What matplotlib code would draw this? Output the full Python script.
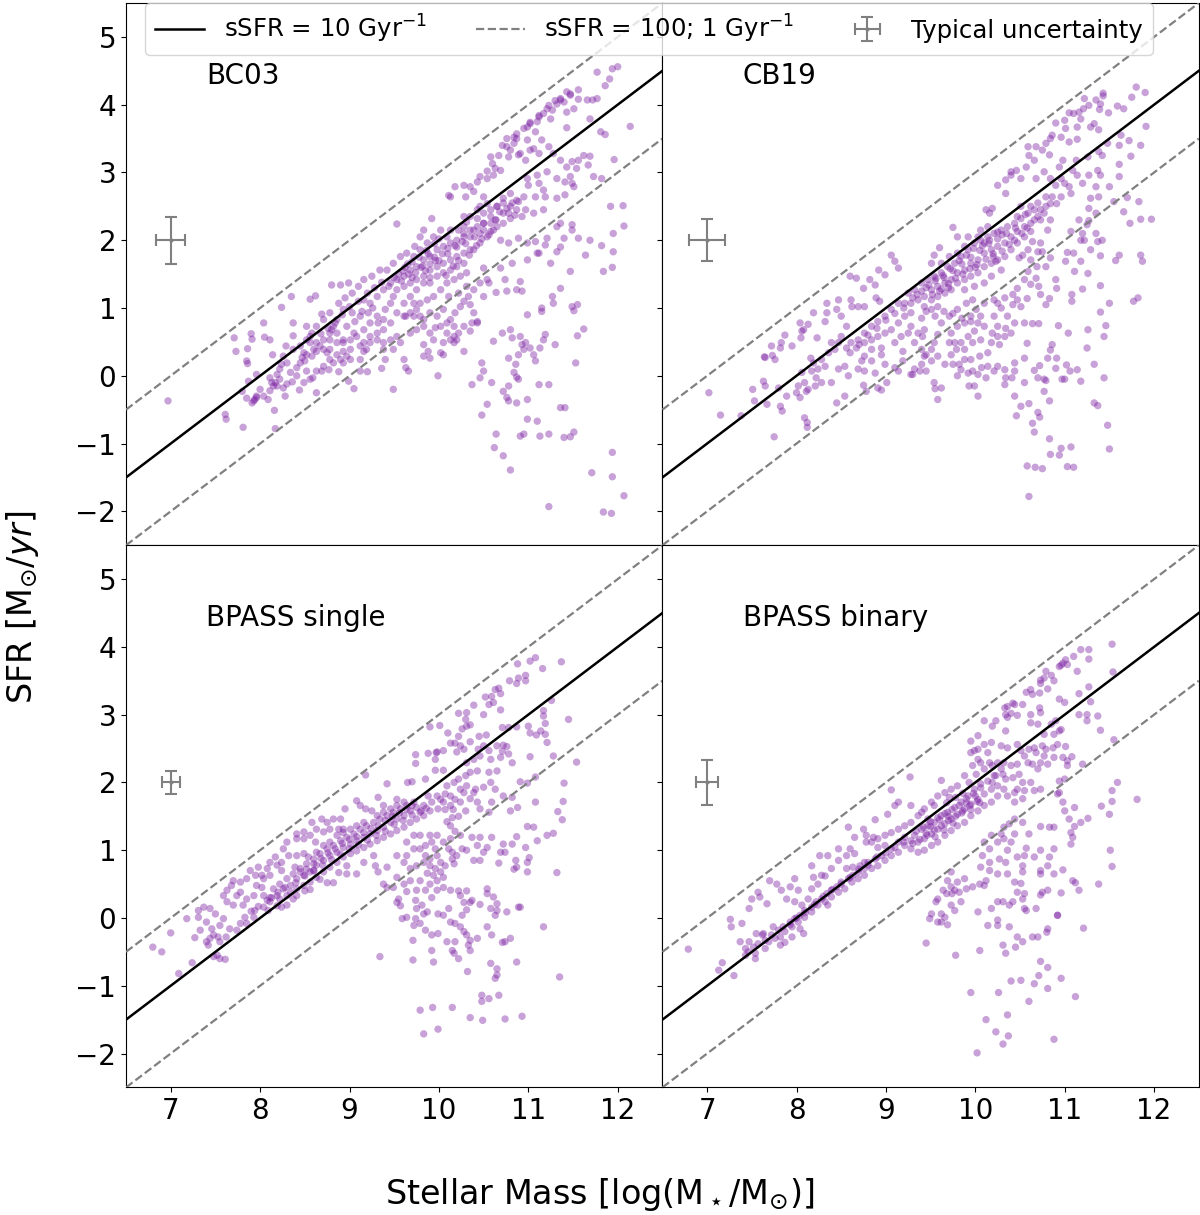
import numpy as np
import matplotlib
matplotlib.use('Agg')
import matplotlib.pyplot as plt

## (log stellar mass, log SFR)
bc03_pts = [
    (12.0,4.56),(11.94,4.53),(11.77,4.48),(11.91,4.38),(11.86,4.28),(11.56,4.22),(11.47,4.16),(11.36,4.07),(11.4,4.04),(11.32,4.01),
    (11.23,3.99),(11.56,4.08),(11.66,4.07),(11.77,4.09),(11.72,4.07),(11.51,3.94),(11.43,3.89),(11.27,3.92),(11.17,3.87),(11.12,3.82),
    (11.1,3.75),(11.02,3.72),(10.95,3.65),(11.25,3.79),(11.69,3.79),(12.14,3.68),(11.43,3.66),(11.08,3.6),(10.99,3.48),(10.87,3.5),
    (10.84,3.43),(10.76,3.38),(10.71,3.4),(10.8,3.33),(11.15,3.48),(11.23,3.38),(11.81,3.6),(11.86,3.56),(11.02,3.33),(10.91,3.28),
    (11.06,3.35),(11.12,3.28),(10.97,3.18),(10.89,3.26),(10.78,3.23),(10.67,3.25),(10.58,3.23),(10.6,3.13),(10.69,3.03),(10.63,3.06),
    (10.54,3.02),(10.61,2.96),(10.54,2.91),(10.46,2.94),(10.43,2.86),(10.35,2.79),(11.28,3.28),(11.36,3.18),(11.43,3.08),(11.49,3.16),
    (11.56,3.18),(11.62,3.25),(11.69,3.24),(11.67,3.11),(11.96,3.19),(11.54,3.06),(11.47,2.94),(11.32,2.91),(11.41,2.86),(11.51,2.79),
    (11.49,2.84),(11.21,3.01),(11.1,2.96),(10.99,2.91),(11.0,2.81),(11.12,2.84),(11.17,2.74),(11.08,2.64),(10.95,2.64),(10.89,2.57),
    (10.8,2.69),(10.72,2.62),(10.82,2.55),(10.87,2.45),(10.76,2.47),(10.65,2.5),(10.97,2.45),(11.19,2.64),(11.32,2.62),(11.41,2.67),
    (11.73,2.94),(11.82,2.91),(10.28,2.81),(10.18,2.79),(10.13,2.64),(10.11,2.66),(10.3,2.64),(10.39,2.72),(10.5,2.64),(10.54,2.54),
    (10.46,2.5),(10.58,2.35),(10.63,2.3),(10.5,2.25),(10.43,2.32),(10.31,2.27),(10.39,2.15),(10.28,2.1),(10.22,2.15),(10.35,2.05),
    (10.46,2.1),(10.58,2.13),(10.65,2.2),(10.72,2.25),(10.8,2.32),(10.85,2.37),(10.93,2.35),(11.06,2.4),(11.17,2.45),(11.32,2.2),
    (11.36,2.25),(11.49,2.23),(11.49,2.15),(11.4,2.03),(11.21,2.03),(11.08,1.98),(10.99,1.96),(10.89,2.03),(10.78,1.96),(10.69,2.0),
    (11.19,1.93),(11.12,1.81),(11.32,1.83),(11.36,1.9),(11.56,2.03),(11.69,2.0),(11.82,1.92),(11.95,1.83),(11.95,2.1),(12.07,2.21),
    (11.92,2.5),(12.06,2.51),(11.64,1.78),(11.84,1.54),(11.94,1.6),(10.76,3.5),(10.84,3.52),(10.87,3.57),(10.99,3.67),(11.02,3.74),
    (11.12,3.84),(11.21,3.94),(11.3,4.06),(11.36,4.09),(11.47,4.14),(11.43,4.19),
    (6.97,-0.37),(7.61,-0.57),(7.62,-0.64),(7.81,-0.76),(7.71,0.56),(7.73,0.36),(7.86,0.40),(7.9,0.62),(7.91,0.54),(7.85,0.22),
    (7.86,0.18),(7.96,0.02),(7.87,-0.08),(7.8,-0.23),(7.85,-0.33),(7.94,-0.35),(7.91,-0.40),(7.96,-0.30),(8.0,-0.2),(8.09,-0.35),
    (8.16,-0.51),(8.17,-0.78),(8.04,0.78),(8.05,0.57),(8.11,0.53),(8.14,0.31),(8.11,-0.03),(8.17,-0.10),(8.19,0.02),(8.24,0.17),
    (8.26,-0.18),(8.28,-0.3),(8.29,0.44),(8.35,1.17),(8.24,1.01),(8.37,0.78),(8.37,0.59),(8.36,-0.09),(8.44,-0.21),(8.41,0.12),
    (8.50,0.22),(8.52,0.07),(8.59,-0.03),(8.63,-0.25),(8.52,0.73),(8.56,0.58),(8.56,1.13),(8.62,1.18),(8.69,0.91),(8.69,0.07),
    (8.77,0.09),(8.8,1.34),(8.9,1.34),(8.99,1.37),(8.88,0.06),(8.99,-0.08),(9.05,-0.19),(9.12,0.07),(9.2,0.06),(9.36,0.11),
    (9.4,0.24),(9.49,-0.2),(9.53,2.24),(9.63,0.88),(9.61,0.24),(9.63,0.12),(9.66,0.07),(9.83,0.46),(9.88,0.36),(9.9,0.26),
    (10.02,0.34),(10.05,0.31),(9.99,0.0),(9.83,0.29),(10.13,0.53),(10.17,0.58),(10.2,0.53),(10.35,0.66),(10.43,0.78),(10.28,0.36),
    (10.37,-0.13),(10.48,0.19),(10.5,0.07),(10.46,-0.03),(10.59,-0.1),(10.54,-0.42),(10.48,-0.58),(10.61,0.51),(10.71,0.63),(10.8,0.68),
    (10.82,0.56),(10.91,0.58),(10.93,0.46),(10.97,0.49),(10.95,0.39),(11.06,0.31),(11.08,0.22),(11.02,0.41),(10.89,0.31),(10.78,0.26),
    (10.86,0.17),(10.84,0.05),(10.87,-0.02),(10.89,-0.05),(10.78,-0.15),(10.72,-0.23),(10.76,-0.32),(10.78,-0.37),(10.87,-0.40),(10.99,-0.35),
    (11.12,-0.13),(11.23,-0.13),(11.19,0.61),(11.17,0.53),(11.13,0.41),(11.3,0.46),(11.53,0.19),(11.55,0.59),(11.62,0.69),(10.99,0.9),
    (10.64,1.23),(10.76,1.25),(10.87,1.27),(10.93,1.25),(10.91,1.39),(10.99,-0.64),(11.1,-0.67),(10.64,-0.86),(10.91,-0.89),(10.95,-0.86),
    (11.13,-0.89),(11.23,-0.86),(11.36,-0.47),(11.41,-0.47),(11.4,-0.91),(11.47,-0.9),(11.51,-0.83),(10.62,-1.06),(10.72,-1.18),(10.8,-1.39),
    (11.23,-1.93),(11.71,-1.43),(11.94,-1.13),(11.94,-1.49),(12.07,-1.77),(11.84,-2.01),(11.93,-2.03),(11.36,1.29),(11.27,1.17),(11.28,1.07),
    (11.49,1.02),(11.51,0.96),(11.55,1.05),(11.15,1.0),(11.15,0.95),(11.25,1.66),(11.47,1.54),(11.1,1.81),(10.99,1.71),(10.82,1.66),
    (10.69,1.59),(10.5,1.59),(10.54,1.42),(10.56,1.37),(10.74,1.42),(10.39,1.27),(10.5,1.17),(10.33,1.17),(10.28,1.1),(10.46,1.37),
    (10.35,1.05),(10.39,0.93),(10.37,0.78),(10.43,0.8),(10.24,1.02),(10.18,0.93),(10.13,0.83),(10.17,0.73),(10.22,0.63),(10.28,0.73),
    (10.05,0.98),(10.09,0.78),(10.02,0.73),(9.96,0.71),(9.9,0.63),(9.83,0.73),(9.79,0.88),(9.75,0.98),(9.72,1.07),(9.68,0.93),
    (9.61,0.88),(9.53,0.93),(9.46,0.78),(9.38,0.68),(9.31,0.63),(9.23,0.58),(9.16,0.49),(9.08,0.58),(9.19,0.39),(9.12,0.44),
    (9.01,0.39),(8.97,0.29),(8.9,0.24),(8.82,0.19),(8.75,0.34),(8.78,0.63),(8.86,0.63),(8.93,0.53),(9.01,0.53),(8.93,0.49),
    (8.82,0.73),(8.8,0.68),(8.63,0.49),(8.71,0.53),(8.67,0.44),(8.6,0.39),(8.58,0.29),(8.45,0.44),(8.49,0.34),(8.52,0.31),
    (8.47,0.27),(8.26,0.29),(8.3,0.19),(8.22,0.1),(8.13,-0.1),(8.15,-0.15),(7.96,-0.32),(7.93,-0.37),
    (9.16,1.12),(9.23,1.07),(9.31,1.17),(9.38,1.27),(9.46,1.37),(9.53,1.42),(9.61,1.47),(9.68,1.56),(9.75,1.61),(9.83,1.71),
    (9.9,1.76),(9.98,1.86),(10.05,1.91),(10.13,1.96),(10.2,2.0),(10.28,2.05),(9.53,1.27),(9.61,1.32),(9.68,1.37),(9.75,1.42),
    (9.83,1.47),(9.9,1.56),(9.98,1.61),(10.05,1.66),(10.13,1.71),(10.2,1.76),(10.28,1.81),(10.35,1.86),(9.75,1.27),(9.83,1.37),
    (9.9,1.37),(9.98,1.47),(10.05,1.52),(10.13,1.56),(10.2,1.61),(10.28,1.66),(10.17,1.42),(10.24,1.47),(10.31,1.52),(10.09,1.37),
    (9.72,1.76),(9.79,1.86),(9.87,1.96),(9.94,2.05),(10.02,2.15),(10.09,2.05),(10.13,2.15),(10.28,2.2),(10.35,2.15),(10.43,2.2),
    (10.5,2.25),(10.58,2.25),(10.28,2.35),(10.35,2.35),(10.43,2.45),(10.5,2.4),(10.58,2.45),(10.65,2.5),(10.72,2.55),(10.72,2.4),
    (10.8,2.5),(10.87,2.59),(10.61,2.15),(10.54,2.05),(10.46,1.96),(10.39,1.86),(9.83,2.15),(9.92,2.32),(9.79,2.05),(9.73,1.91),
    (9.64,1.81),(9.57,1.76),(9.49,1.66),(9.42,1.56),(9.34,1.56),(9.25,1.47),(9.16,1.42),(9.1,1.32),(9.03,1.22),(8.95,1.15),
    (8.88,1.07),(8.93,0.98),(9.03,0.93),(9.12,0.88),(9.21,0.93),(9.31,0.88),(9.4,0.98),(9.46,1.07),(9.49,1.17),(9.61,1.07),
    (9.68,1.17),(9.79,1.07),(9.87,1.12),(9.94,1.17),(10.02,1.27),(10.11,1.17),(10.22,1.22),(10.31,1.32),(8.78,0.93),(8.71,0.83),
    (8.63,0.73),(8.58,0.63),(8.86,0.83),(8.97,0.73),(9.05,0.63),(9.16,0.68),(9.23,0.78),(9.32,0.78),(9.38,0.83),(8.78,0.53),
    (8.86,0.49),(8.71,0.39),(8.78,0.39),(8.93,0.36),(8.86,0.31),(9.12,0.24),(9.16,0.36),(9.23,0.49),(9.31,0.53),(9.38,0.49),
    (9.46,0.53),(9.53,0.58),(9.38,0.39),(9.49,0.39),(9.57,0.49),(9.68,0.63),(9.75,0.68),(9.72,0.88),(9.9,0.93),(9.98,0.88),
    (9.83,0.83),(10.09,0.63),(10.05,0.49),(10.17,0.49),(9.94,0.53),(8.45,0.19),(8.41,0.0),(8.34,0.05),(8.22,-0.05),(8.19,-0.15),
    (8.04,-0.3),(8.11,-0.22),(8.3,-0.12),(8.49,-0.1),(8.56,-0.05),(8.63,0.07),(8.71,0.14),(8.78,0.24),(8.93,0.19),(9.01,0.24),
    (8.56,0.49),(8.63,0.36),(8.37,0.39),(8.52,0.53),
    (9.6,1.55),(9.7,1.45),(9.8,1.6),(9.9,1.65),(9.95,1.75),(10.0,1.7),(9.85,1.55),(9.65,1.65),(9.55,1.5),(9.9,1.45),
    (10.1,1.8),(10.2,1.9),(10.3,1.95),(10.4,2.05),(10.5,2.15),
    (9.58,1.40),(9.66,1.50),(9.74,1.52),(9.82,1.62),(9.88,1.80),(9.96,1.70),(10.04,1.80),(10.1,1.88),(10.18,1.92),(10.26,1.98),
    (9.62,1.60),(9.7,1.68),(9.78,1.75),(9.86,1.85),(9.95,1.95),(10.0,2.02),(9.5,1.45),(9.44,1.32),(9.36,1.38),(9.28,1.30),
    (9.2,1.22),(9.1,1.10),(9.0,1.02),(8.92,0.90),(8.84,0.78),(8.76,0.70),(8.68,0.62),(9.06,0.80),(9.14,0.95),(9.26,1.00),
    (10.08,1.48),(10.16,1.62),(10.22,1.70),(10.34,1.78),(10.42,1.92),(10.48,2.02),(10.56,2.08),(10.64,2.30),(10.68,2.42),(10.78,2.40),
]

cb19_pts = [
    (11.80,4.26),(11.9,4.18),(11.75,4.11),(11.43,4.17),(11.43,4.13),(11.35,4.07),(11.22,4.09),(11.21,3.94),(11.16,3.89),(11.1,3.87),
    (11.05,3.88),(11.27,3.99),(11.4,4.01),(11.39,3.93),(11.49,3.88),(11.59,3.98),(11.66,3.94),(11.0,3.77),(10.9,3.73),(11.01,3.65),
    (11.14,3.67),(11.18,3.79),(11.29,3.67),(11.38,3.63),(11.33,3.72),(11.91,3.68),(10.86,3.55),(10.84,3.5),(10.79,3.43),(10.75,3.33),
    (10.68,3.38),(10.59,3.38),(10.6,3.25),(10.66,3.18),(10.83,3.26),(11.05,3.45),(11.14,3.49),(10.96,3.52),(11.48,3.43),(11.61,3.4),
    (11.72,3.47),(11.85,3.4),(11.63,3.55),(11.42,3.25),(11.38,3.31),(11.26,3.23),(11.13,3.18),(10.98,3.18),(11.74,3.24),(11.61,3.12),
    (10.57,3.08),(10.46,3.03),(10.4,3.01),(10.51,2.91),(10.34,2.89),(10.25,2.81),(10.4,2.96),(10.34,2.69),(10.68,2.91),(10.77,3.01),
    (10.84,2.91),(10.94,3.08),(10.96,2.91),(10.9,2.81),(11.0,2.84),(11.05,2.79),(11.07,2.69),(10.96,2.64),(10.86,2.64),(10.79,2.64),
    (10.84,2.54),(10.91,2.54),(10.79,2.5),(11.09,3.03),(11.14,2.96),(11.2,2.84),(11.27,2.96),(11.37,3.03),(11.4,2.96),(11.35,2.79),
    (11.38,2.64),(11.29,2.62),(11.5,2.79),(11.61,2.94),(11.7,2.63),(11.55,2.57),(11.83,2.57),(11.66,2.42),(11.85,2.31),(11.97,2.31),
    (11.73,2.25),(11.27,2.47),(11.35,2.4),(11.27,2.29),(11.25,2.23),(11.16,2.3),(11.07,2.13),(11.2,2.1),(11.22,2.0),(11.35,2.1),
    (11.42,2.0),(11.37,1.98),(11.18,2.0),(11.85,1.78),(11.87,1.69),(11.61,1.78),(11.57,1.7),(11.4,1.77),(11.29,1.86),(11.18,1.69),
    (11.1,1.81),(11.03,1.82),(11.01,1.69),(10.84,1.74),(10.79,1.61),(10.75,1.83),(11.11,1.54),(11.26,1.51),(11.2,1.28),(11.4,1.33),
    (11.08,1.2),(11.08,1.1),(11.5,1.07),(11.77,1.1),(11.82,1.15),(11.4,0.94),(10.9,1.42),(10.91,1.29),(10.83,1.14),(10.79,1.05),
    (10.73,1.2),(10.71,1.32),(10.62,1.35),(10.68,1.44),(10.69,1.61),(10.59,1.54),(10.55,1.42),(10.62,1.71),(10.7,1.83),(10.73,1.96),
    (10.64,1.98),(10.59,1.86),(10.49,1.74),(10.53,1.78),(10.47,1.29),(10.42,1.2),(10.47,1.12),(10.58,1.14),(10.51,1.02),(10.42,1.05),
    (10.33,1.15),(10.36,0.88),(10.44,0.78),(10.55,0.78),(10.64,0.77),(10.71,0.77),(10.93,0.74),(11.04,0.63),(11.26,0.68),(11.44,0.58),
    (11.46,0.74),(11.25,0.41),(11.33,0.17),(11.44,-0.03),(11.18,-0.08),(11.14,0.09),(11.06,0.07),(10.97,-0.05),(10.9,0.11),(11.02,0.16),
    (10.91,0.26),(10.84,0.38),(10.86,0.46),(10.81,0.26),(10.72,0.15),(10.66,0.08),(10.77,-0.05),(10.79,-0.07),(10.7,-0.03),(10.55,-0.1),
    (10.58,0.48),(10.55,0.26),(10.44,0.19),(10.44,0.07),(10.34,-0.03),(10.41,-0.03),(10.33,-0.13),(10.44,-0.3),(10.51,-0.45),(10.6,-0.41),
    (10.7,-0.54),(10.72,-0.61),(10.46,-0.59),(10.64,-0.7),(10.66,-0.83),(10.77,-0.23),(10.83,-0.37),(11.0,-0.05),(11.33,-0.4),(11.37,-0.44),
    (11.48,-0.73),(11.5,-1.08),(10.83,-0.93),(10.84,-1.16),(10.94,-1.17),(10.96,-1.07),(11.07,-1.05),(10.58,-1.33),(10.67,-1.35),(10.75,-1.37),
    (11.03,-1.34),(11.1,-1.35),(10.6,-1.78),
    (10.25,1.07),(10.21,1.12),(10.29,1.0),(10.21,0.88),(10.25,0.73),(10.19,0.63),(10.1,0.73),(10.03,0.78),(9.99,0.66),(9.92,0.58),
    (9.84,0.49),(9.77,0.49),(9.79,0.39),(9.88,0.39),(9.97,0.49),(10.06,0.53),(10.18,0.49),(10.25,0.58),(10.33,0.58),(10.34,0.7),
    (10.4,0.63),(10.27,0.46),(10.14,0.34),(10.05,0.29),(9.95,0.24),(9.88,0.24),(9.82,0.17),(9.84,0.09),(9.92,0.04),(9.97,0.07),
    (10.03,0.02),(10.12,-0.03),(10.21,0.07),(10.25,0.14),(10.33,0.09),(10.07,0.12),(10.14,0.14),(9.93,-0.15),(9.99,-0.15),(10.03,-0.3),
    (9.75,0.17),(9.73,0.31),(9.71,0.49),(9.73,0.63),(9.8,0.73),(9.88,0.78),(9.95,0.88),(10.06,0.88),(10.01,0.98),(10.1,1.07),
    (9.97,1.12),(9.9,1.07),(9.8,0.98),(9.71,0.88),(9.62,0.78),(9.58,0.61),(9.54,0.49),(9.51,0.39),(9.43,0.29),(9.51,0.22),
    (9.58,0.29),(9.66,0.17),(9.55,-0.19),(9.58,-0.35),(9.62,-0.18),(9.45,0.07),(9.4,0.17),(9.32,0.1),(9.28,0.02),(9.4,0.39),
    (9.41,0.58),(9.43,0.68),(9.4,0.85),
    (9.25,1.22),(9.32,1.27),(9.4,1.37),(9.47,1.42),(9.54,1.47),(9.62,1.52),(9.69,1.61),(9.77,1.66),(9.84,1.76),(9.92,1.86),
    (9.99,1.96),(10.06,2.0),(10.14,2.05),(10.21,2.1),(10.29,2.15),(10.36,2.2),(10.44,2.25),(10.51,2.32),(10.59,2.4),(10.66,2.45),
    (10.73,2.45),(10.7,2.35),(10.62,2.25),(10.55,2.2),(10.47,2.13),(10.4,2.05),(10.33,1.96),(10.25,1.91),(10.18,1.86),(10.1,1.81),
    (10.03,1.71),(9.95,1.66),(9.88,1.56),(9.8,1.52),(9.73,1.42),(9.66,1.37),(9.58,1.32),(9.51,1.27),(9.43,1.17),(9.36,1.12),
    (9.28,1.07),(9.8,1.37),(9.88,1.42),(9.95,1.47),(10.03,1.52),(10.1,1.61),(10.18,1.66),(10.25,1.71),(10.33,1.76),(9.73,1.27),
    (9.66,1.22),(9.58,1.17),(9.51,1.12),(9.43,1.02),(9.51,0.98),(9.58,1.02),(9.88,1.27),(9.99,1.32),(10.1,1.37),(10.18,1.47),
    (10.23,1.69),(10.29,1.56),(10.4,1.86),(10.47,1.96),(10.55,2.05),(10.62,2.13),(10.51,2.5),(10.47,2.35),(10.62,2.5),(10.7,2.55),
    (10.77,2.4),(10.73,2.3),(10.84,2.3),(10.81,2.15),(10.14,2.2),(10.1,1.96),(10.03,2.05),(10.06,2.15),(10.16,2.4),(10.19,2.47),
    (10.12,2.45),(10.25,2.12),(9.88,1.91),(9.8,1.81),(9.71,1.76),(9.62,1.66),(9.54,1.78),(9.51,1.66),(9.8,2.05),(9.75,2.19),
    (9.92,2.05),(9.6,1.89),
    (9.21,1.07),(9.14,1.07),(9.06,0.98),(8.99,0.88),(8.91,0.8),(8.84,0.73),(8.76,0.63),(8.69,0.53),(8.61,0.49),(8.56,0.41),
    (8.6,0.34),(8.67,0.41),(8.76,0.49),(8.84,0.53),(8.91,0.58),(8.99,0.63),(9.06,0.68),(9.14,0.78),(9.21,0.88),(9.28,0.93),
    (9.17,0.58),(9.25,0.63),(9.1,0.49),(8.95,0.41),(8.84,0.39),(8.76,0.29),(8.73,0.22),(8.84,0.22),(8.95,0.31),(8.69,0.1),
    (8.76,0.07),(8.88,0.04),(8.99,0.17),(9.1,0.12),(9.14,0.07),(9.19,0.36),(9.32,0.49),(9.36,0.63),(9.28,0.73),(8.56,0.73),
    (8.5,0.58),(8.47,0.49),(8.43,0.39),(8.39,0.49),(8.36,0.34),(8.28,0.24),(8.32,0.14),(8.24,0.1),(8.19,0.19),(8.17,0.07),
    (8.22,-0.03),(8.28,-0.1),(8.21,-0.15),(8.13,-0.2),(8.09,-0.1),(8.06,0.05),(8.02,-0.15),(8.0,-0.25),(8.04,-0.32),(8.11,-0.23),
    (8.09,-0.62),(8.12,-0.69),(8.12,-0.76),(8.39,-0.1),(8.47,0.1),(8.54,0.14),(8.58,0.0),(8.45,-0.4),(8.54,-0.3),(8.75,-0.14),
    (8.78,-0.23),(8.91,-0.18),(8.95,-0.21),(9.01,-0.1),(9.19,0.22),(9.3,0.02),(9.38,0.07),(9.45,0.31),(9.54,-0.1),(9.8,0.0),
    (8.34,1.07),(8.47,1.12),(8.45,0.98),(8.5,0.88),(8.34,0.93),(8.32,0.8),(8.19,0.93),(8.13,0.76),(8.08,0.68),(8.06,0.66),
    (8.04,0.78),(8.23,0.56),(8.05,0.56),(7.95,0.44),(7.83,0.49),(7.87,0.6),(7.82,0.41),(7.72,0.44),(7.64,0.28),(7.65,0.27),
    (7.73,0.3),(7.76,0.24),(7.63,-0.08),(7.65,-0.15),(7.51,-0.2),(7.53,-0.37),(7.67,-0.42),(7.8,-0.18),(7.82,-0.45),(7.84,-0.52),
    (7.89,-0.3),(7.02,-0.25),(7.15,-0.58),(7.38,-0.59),(7.75,-0.9),(8.16,0.26),(8.6,1.47),(8.67,1.44),(8.75,1.29),(8.82,1.42),
    (8.88,1.34),(8.92,1.56),(8.99,1.49),(9.06,1.78),(9.1,1.69),(9.14,1.59),(8.89,1.15),(8.93,1.1),(8.76,1.02),(8.69,1.02),
    (8.61,1.12),(8.62,1.02),
    (9.45,1.3),(9.55,1.4),(9.65,1.45),(9.75,1.55),(9.85,1.65),(9.95,1.75),(10.05,1.85),(10.15,1.95),(10.25,2.02),(10.35,2.1),
    (10.45,2.18),(9.35,1.2),(9.6,1.25),(9.7,1.3),(10.0,1.6),(10.2,1.8),
    (9.48,1.34),(9.56,1.44),(9.64,1.48),(9.72,1.58),(9.82,1.70),(9.9,1.78),(9.98,1.88),(10.08,1.92),(10.16,2.0),(10.3,2.08),
    (9.52,1.20),(9.62,1.28),(9.7,1.36),(9.78,1.44),(9.86,1.5),(9.94,1.58),(10.02,1.64),(10.12,1.72),(10.2,1.76),(10.3,1.84),
    (10.38,1.94),(10.44,2.0),(10.52,2.1),(10.58,2.18),(10.66,2.3),(10.56,2.38),(9.4,1.25),(9.3,1.15),(9.2,1.0),(9.1,0.92),
    (9.0,0.82),(8.9,0.7),(8.8,0.6),(8.7,0.46),(9.45,0.95),(9.55,0.88),(9.65,0.95),(9.75,0.92),(9.85,0.85),(9.95,0.80),
]

bpass_single_pts = [
    (11.08,3.84),(11.02,3.79),(10.88,3.75),(11.37,3.78),(11.16,3.68),(10.97,3.58),(10.89,3.54),(10.87,3.46),(10.79,3.5),(10.97,3.5),
    (10.67,3.39),(10.63,3.37),(10.69,3.31),(10.59,3.27),(10.52,3.26),(10.61,3.18),(10.56,3.15),(10.39,3.14),(10.69,3.07),(10.5,3.0),
    (11.26,3.21),(11.17,3.06),(11.17,2.98),(11.45,2.93),(11.19,2.87),(10.31,3.03),(10.22,3.02),(10.3,2.93),(10.31,2.83),(10.35,2.85),
    (10.26,2.79),(10.01,2.84),(9.9,2.82),(10.1,2.73),(10.22,2.68),(10.45,2.68),(10.53,2.7),(10.71,2.81),(10.78,2.81),(10.87,2.82),
    (11.0,2.83),(11.02,2.73),(11.09,2.7),(11.19,2.71),(11.14,2.76),(11.21,2.59),(10.13,2.58),(10.18,2.58),(10.24,2.54),(10.05,2.47),
    (9.98,2.45),(10.2,2.45),(10.28,2.49),(10.35,2.6),(10.44,2.49),(10.5,2.54),(10.56,2.47),(10.46,2.39),(10.39,2.34),(10.31,2.29),
    (10.58,2.34),(10.65,2.54),(10.69,2.37),(10.78,2.42),(10.82,2.29),(10.72,2.55),(10.71,2.46),(10.76,2.53),(11.02,2.38),(11.28,2.39),
    (11.54,2.3),(11.4,1.99),(11.39,1.72),(11.33,1.57),(11.38,1.45),(11.28,1.25),(11.21,1.22),(11.08,1.71),(10.99,1.99),(11.08,2.08),
    (10.91,2.01),(10.88,1.63),(10.8,1.58),(10.82,1.78),(10.72,1.8),(10.59,1.71),(10.56,1.56),(10.46,1.61),(10.43,1.71),(10.39,1.85),
    (10.41,1.9),(10.5,1.93),(10.58,2.0),(10.63,1.9),(10.65,2.17),(10.56,2.15),(10.43,2.17),(10.35,2.15),(10.3,2.1),(10.22,2.05),
    (10.24,1.9),(10.31,1.95),(10.17,2.0),(10.09,1.95),(10.07,1.83),(10.13,1.8),(10.18,1.75),(10.24,1.71),(10.28,1.85),(10.35,1.76),
    (10.3,1.58),(10.99,1.35),(11.06,1.34),(10.87,1.2),(10.97,1.04),(10.82,1.09),(10.72,1.09),(10.69,0.97),(10.74,0.97),(10.59,1.19),
    (10.54,1.04),(10.46,1.19),(10.37,1.19),(10.43,1.07),(10.31,1.0),(10.39,0.85),(10.46,0.85),(10.5,0.97),(10.67,0.81),(10.86,0.85),
    (10.87,0.75),(10.99,0.82),(10.99,0.68),(11.01,0.89),(11.32,0.67),(11.1,1.14),
    (10.13,1.66),(10.05,1.71),(10.02,1.75),(9.98,1.8),(9.92,1.71),(9.88,1.8),(9.83,1.66),(9.79,1.56),(9.9,1.58),(9.99,1.61),
    (10.07,1.6),(10.16,1.6),(10.22,1.5),(10.15,1.48),(10.09,1.42),(10.13,1.36),(10.18,1.28),(10.24,1.22),(10.13,1.17),(10.05,1.12),
    (10.11,1.02),(10.15,0.97),(10.2,0.92),(10.26,1.02),(10.15,0.87),(10.17,0.8),(10.07,0.77),(10.02,0.82),(9.98,0.92),(9.9,0.87),
    (9.85,0.92),(9.79,1.02),(9.72,1.02),(9.64,0.92),(9.61,0.82),(9.68,0.73),(9.75,0.77),(9.83,0.82),(9.9,0.77),(9.96,0.73),
    (10.02,0.68),(9.94,0.63),(9.87,0.66),(9.79,0.55),(9.9,0.5),(9.98,0.55),(10.05,0.6),(9.85,0.41),(9.98,0.41),(9.92,0.3),
    (9.75,0.41),(9.68,0.55),(9.61,0.5),(9.53,0.6),(9.49,0.45),(9.55,0.28),(9.64,0.39),(9.74,0.26),(9.81,0.19),(9.87,0.09),
    (9.75,0.14),(9.64,0.01),(9.74,-0.01),(9.53,0.23),(9.57,0.18),(9.42,0.45),(9.38,0.5),(9.32,0.68),(9.42,0.75),(9.53,0.92),
    (9.64,1.12),(9.72,1.22),(9.79,1.22),(9.85,1.07),(9.9,1.22),(9.98,1.22),(9.92,1.12),(9.96,1.02),
    (10.05,0.45),(10.13,0.41),(10.22,0.4),(10.24,0.33),(10.28,0.23),(10.31,0.4),(10.37,0.26),(10.31,0.12),(10.35,0.23),(10.54,0.43),
    (10.54,0.36),(10.61,0.31),(10.58,0.14),(10.65,0.21),(10.65,0.11),(10.63,0.04),(10.76,0.09),(10.89,0.16),(10.46,0.2),
    (9.59,-0.01),(9.83,0.06),(9.72,-0.11),(9.79,-0.08),(9.85,-0.18),(9.92,-0.25),(9.99,0.06),(10.11,0.14),(10.05,0.04),(10.13,-0.06),
    (10.18,-0.08),(10.26,0.04),(10.24,-0.13),(10.28,-0.2),(10.31,-0.25),(10.35,-0.33),(10.33,-0.4),(10.35,-0.48),(10.43,-0.3),(9.99,-0.23),
    (10.09,-0.35),(10.18,-0.35),(10.15,-0.48),(10.17,-0.52),(10.22,-0.6),(9.92,-0.48),(9.94,-0.65),(9.71,-0.33),(9.71,-0.62),(9.34,-0.57),
    (10.54,-0.13),(10.59,-0.25),(10.74,-0.35),(10.71,-0.36),(10.8,-0.3),(10.87,-0.65),(10.58,-0.67),(10.65,-0.75),(10.65,-0.84),(10.63,-0.89),
    (11.17,-0.13),(11.35,-0.87),(10.32,-0.79),(10.48,-1.14),(10.48,-1.23),(10.56,-1.19),(10.67,-1.14),(9.79,-1.36),(9.93,-1.32),(10.15,-1.32),
    (9.83,-1.71),(9.99,-1.64),(10.35,-1.47),(10.49,-1.51),(10.74,-1.49),(10.93,-1.45),(10.91,0.16),(10.84,0.72),
    (8.11,0.24),(8.19,0.33),(8.26,0.43),(8.34,0.48),(8.41,0.58),(8.49,0.63),(8.56,0.68),(8.63,0.78),(8.71,0.85),(8.78,0.92),
    (8.86,0.97),(8.93,1.04),(9.01,1.09),(9.08,1.14),(9.16,1.19),(9.23,1.24),(9.31,1.29),(9.38,1.34),(9.46,1.41),(9.53,1.46),
    (9.61,1.51),(9.68,1.58),(9.75,1.63),(9.72,1.71),(9.64,1.66),(9.57,1.61),(9.49,1.56),(9.42,1.51),(9.34,1.46),(9.27,1.41),
    (9.19,1.36),(9.12,1.31),(9.05,1.24),(8.97,1.19),(8.9,1.14),(8.82,1.07),(8.75,1.02),(8.67,0.95),(8.6,0.87),(8.52,0.8),
    (8.45,0.73),(8.37,0.65),(8.3,0.58),(8.22,0.5),(8.15,0.43),(8.34,0.38),(8.41,0.43),(8.49,0.48),(8.56,0.53),(8.63,0.6),
    (8.71,0.68),(8.78,0.75),(8.86,0.82),(8.93,0.9),(9.01,0.95),(9.08,0.99),(9.16,1.04),(9.23,1.09),(9.31,1.14),(9.38,1.19),
    (9.46,1.24),(9.53,1.29),(9.61,1.34),(9.68,1.41),(9.75,1.46),(9.83,1.51),(9.16,1.41),(9.08,1.36),(9.01,1.31),(8.93,1.26),
    (8.86,1.22),(8.78,1.12),(8.71,1.07),(8.63,0.97),(9.31,1.51),(9.38,1.56),(9.46,1.61),(9.53,1.66),(9.61,1.71),(9.53,1.75),
    (9.38,1.66),(9.25,1.58),
    (8.45,0.68),(8.52,0.72),(8.6,0.8),(8.68,0.88),(8.76,0.96),(8.84,1.02),(8.92,1.1),(9.0,1.16),(9.08,1.2),(9.16,1.26),
    (9.24,1.32),(9.32,1.36),(9.4,1.44),(9.48,1.5),(9.56,1.55),(9.64,1.6),(9.7,1.52),(9.6,1.44),(9.5,1.38),(9.4,1.28),
    (9.3,1.22),(9.2,1.15),(9.1,1.08),(9.0,1.02),(8.9,0.94),(8.8,0.86),(8.7,0.78),(8.6,0.7),(8.5,0.62),(8.4,0.52),
    (8.28,0.45),(8.2,0.38),(8.13,0.3),(9.8,1.58),(9.86,1.62),(9.7,1.66),
    (8.41,1.17),(8.49,1.17),(8.56,1.22),(8.63,1.31),(8.69,1.46),(8.75,1.41),(8.82,1.46),(8.78,1.31),(8.71,1.27),(8.62,1.12),
    (8.49,1.27),(8.41,1.24),(8.58,1.41),(8.88,1.31),(8.93,1.31),(8.9,1.46),(8.95,1.61),(9.08,1.73),(9.12,1.66),(9.18,1.61),
    (9.32,1.78),(9.18,2.11),(9.42,1.98),(9.65,2.0),(9.7,2.01),(9.74,2.41),(9.74,2.28),(9.85,2.05),(9.88,2.43),(9.97,2.44),
    (9.96,2.34),(9.96,2.18),(10.05,2.18),
    (8.3,1.12),(8.26,1.02),(8.32,0.92),(8.17,0.9),(8.24,0.82),(8.19,0.78),(8.24,0.7),(8.11,0.82),(8.08,0.73),(7.98,0.75),
    (7.89,0.7),(7.95,0.63),(8.02,0.63),(7.85,0.58),(7.78,0.53),(7.7,0.55),(7.68,0.48),(7.78,0.38),(7.74,0.33),(7.63,0.41),
    (7.59,0.33),(7.63,0.24),(7.7,0.19),(7.81,0.19),(7.85,0.28),(7.93,0.33),(7.96,0.48),(8.02,0.45),(8.04,0.33),(8.08,0.26),
    (8.11,0.3),(8.04,0.16),(8.09,0.11),(7.94,0.11),(7.93,0.01),(7.83,0.01),(7.85,-0.08),(7.78,-0.08),(7.66,-0.16),(7.74,-0.18),
    (7.55,-0.11),(7.59,-0.01),(7.5,0.06),(7.44,0.14),(7.4,-0.06),(7.46,-0.16),(7.53,-0.28),(7.44,-0.3),(7.4,-0.35),(7.42,-0.4),
    (7.48,-0.25),(7.55,-0.35),(7.62,-0.28),(7.52,-0.55),(7.55,-0.6),(7.61,-0.61),(7.48,-0.57),(7.31,0.11),(7.37,0.16),(7.31,0.01),
    (7.33,-0.18),(7.27,-0.29),(7.18,-0.01),(7.0,-0.22),(6.8,-0.43),(6.9,-0.5),(7.09,-0.82),(7.24,-0.66),(7.9,0.1),(7.98,0.17),
    (8.11,0.63),(8.04,0.58),(8.22,0.28),(8.3,0.33),(8.41,0.33),(8.5,0.4),(8.56,0.42),(8.37,0.28),(8.3,0.19),(8.24,0.16),
    (8.19,0.18),(8.39,0.75),(8.49,0.95),(8.41,0.92),(8.54,0.9),(8.6,0.7),(8.67,0.57),(8.75,0.52),(8.82,0.52),(8.88,0.67),
    (8.97,0.77),(8.97,0.65),(9.08,0.65),(9.16,0.82),(9.27,0.92),(9.29,0.77),
]

bpass_binary_pts = [
    (11.53,4.04),(11.27,3.96),(11.18,3.96),(11.27,3.82),(11.1,3.86),(11.01,3.81),(10.98,3.76),(10.96,3.73),(11.03,3.74),(10.94,3.71),
    (11.14,3.64),(11.54,3.63),(10.79,3.64),(10.85,3.58),(10.77,3.54),(10.73,3.51),(10.73,3.46),(10.81,3.38),(10.88,3.5),(10.62,3.37),
    (10.57,3.33),(10.64,3.3),(10.72,3.32),(11.27,3.41),(11.16,3.31),(11.29,3.19),(10.94,3.23),(11.0,3.18),(10.53,3.15),(10.44,3.15),
    (10.42,3.17),(10.36,3.12),(10.33,3.1),(10.47,2.99),(10.4,3.02),(10.34,3.0),(10.36,2.96),(10.62,3.0),(10.72,3.1),(10.62,2.88),
    (10.7,2.86),(10.73,3.03),(10.85,2.86),(10.9,2.91),(10.96,2.78),(10.94,2.76),(10.88,2.71),(10.77,2.71),(11.16,3.0),(11.25,3.0),
    (11.25,2.91),(11.37,2.98),(11.4,2.77),(11.55,2.63),(10.23,2.91),(10.19,2.83),(10.1,2.91),(10.1,2.56),(10.18,2.59),(10.34,2.76),
    (10.03,2.69),(9.95,2.61),(9.99,2.47),(10.03,2.49),(9.95,2.44),(10.14,2.44),(10.29,2.54),(10.36,2.51),(10.47,2.56),(10.51,2.47),
    (10.55,2.39),(10.6,2.49),(10.66,2.51),(10.68,2.44),(10.75,2.54),(10.79,2.49),(10.87,2.51),(10.92,2.56),(11.01,2.53),(10.77,2.39),
    (10.73,2.29),(10.7,2.2),(10.64,2.27),(10.59,2.29),(10.81,2.27),(10.88,2.37),(10.98,2.37),(11.03,2.32),(11.08,2.38),(11.2,2.27),
    (11.03,2.25),(10.25,2.29),(10.32,2.29),(10.4,2.25),(10.47,2.27),(10.49,2.12),(10.53,2.0),(10.42,2.07),(10.34,2.05),(10.31,2.12),
    (10.23,2.1),(10.19,2.0),(10.25,1.95),(10.32,1.9),(10.36,1.8),(10.44,1.85),(10.47,1.9),(10.55,1.88),(10.44,1.71),(10.53,1.76),
    (10.66,1.88),(10.62,2.0),(10.73,1.9),(10.94,2.02),(11.0,2.05),(10.94,1.85),(10.92,1.83),(10.98,1.71),(11.0,1.58),(11.11,1.63),
    (11.05,1.46),(11.11,1.35),(11.07,1.26),(11.09,1.19),(11.07,1.09),(11.18,1.41),(11.26,1.47),(11.41,1.65),(11.5,1.53),(11.53,1.88),
    (11.53,1.72),(11.59,2.0),(11.81,1.75),(11.51,1.0),(11.53,0.76),(11.38,0.5),(11.21,-0.15),(11.09,0.55),(11.12,0.52),(11.16,0.41),
    (10.96,0.37),(10.92,0.04),(10.88,1.34),(10.83,1.34),(10.73,1.35),(10.6,1.24),(10.53,1.41),(10.44,1.46),(10.38,1.39),(10.32,1.34),
    (10.44,1.24),(10.4,1.12),(10.36,1.0),(10.32,1.17),(10.29,1.24),(10.25,1.12),(10.18,1.22),(10.1,1.12),(10.16,1.02),(10.08,0.92),
    (10.16,0.82),(10.06,0.75),(10.16,0.7),(10.25,0.65),(10.27,0.87),(10.34,0.82),(10.47,0.9),(10.55,0.92),(10.57,1.03),(10.66,0.9),
    (10.73,1.0),(10.83,0.9),(10.88,1.02),(10.53,0.77),(10.53,0.68),(10.73,0.7),(10.73,0.65),(10.81,0.77),(10.88,0.65),(10.98,0.71),
    (10.36,0.65),(10.44,0.53),(10.51,0.51),(10.55,0.36),(10.53,0.28),(10.75,0.38),(10.73,0.34),(10.81,0.41),(10.47,0.38),(10.57,0.11),
    (10.68,0.14),
    (10.12,0.55),(10.1,0.48),(10.05,0.5),(9.97,0.46),(9.88,0.58),(9.9,0.43),(9.8,0.53),(9.73,0.68),(9.69,0.55),(9.73,0.46),
    (9.77,0.41),(9.68,0.36),(9.64,0.41),(9.74,0.36),(9.82,0.38),(9.84,0.24),(9.77,0.11),(9.73,0.19),(9.66,0.01),(9.62,-0.06),
    (9.69,-0.1),(9.58,-0.06),(9.51,0.06),(9.56,0.24),(9.58,0.28),(9.49,-0.01),(9.62,0.06),(10.03,0.09),(10.18,0.14),(10.25,-0.03),
    (10.25,0.24),(10.31,0.24),(10.38,0.19),(10.42,0.24),(10.55,0.14),(10.14,-0.11),(10.25,-0.11),(10.38,-0.13),(10.34,-0.52),(10.45,-0.43),
    (10.47,-0.28),(10.53,-0.35),(10.64,-0.28),(10.7,-0.28),(10.81,-0.16),(10.8,-0.21),(10.92,0.04),(10.31,-0.4),(10.05,-0.48),(9.78,-0.55),
    (9.45,-0.37),(10.73,-0.64),(10.81,-0.73),(10.71,-0.85),(10.66,-0.97),(10.81,-1.04),(10.96,-0.89),(11.12,-1.16),(10.4,-0.93),(10.51,-0.92),
    (10.6,-1.23),(9.95,-1.1),(10.26,-1.1),(10.36,-1.43),(10.12,-1.5),(10.23,-1.68),(10.37,-1.74),(10.31,-1.86),(10.02,-1.99),(10.88,-1.79),
    (9.32,1.22),(9.4,1.31),(9.47,1.36),(9.54,1.41),(9.62,1.51),(9.69,1.56),(9.77,1.63),(9.84,1.71),(9.92,1.8),(9.99,1.9),
    (10.06,1.98),(10.14,2.02),(10.21,2.1),(10.29,2.2),(9.36,1.12),(9.43,1.17),(9.51,1.24),(9.58,1.31),(9.66,1.39),(9.73,1.46),
    (9.8,1.53),(9.88,1.61),(9.95,1.68),(10.03,1.75),(10.1,1.83),(10.18,1.9),(10.25,1.8),(10.18,1.71),(10.1,1.66),(10.03,1.58),
    (9.95,1.51),(9.88,1.41),(9.8,1.36),(9.73,1.29),(9.66,1.22),(9.58,1.12),(9.51,1.07),(9.43,1.0),(9.36,0.97),(9.28,1.02),
    (9.21,1.07),(9.14,1.12),(9.21,1.19),(9.28,1.14),(9.14,0.97),(9.06,1.02),(8.99,1.07),(8.95,0.92),(8.88,0.87),(8.8,0.82),
    (8.76,0.73),(8.69,0.68),(8.63,0.63),(8.58,0.58),(8.5,0.53),(8.45,0.46),(8.39,0.41),(8.34,0.36),(8.28,0.28),(8.22,0.24),
    (8.17,0.16),(8.09,0.11),(8.04,0.04),(7.98,-0.01),(7.93,-0.06),(7.85,-0.13),(7.8,-0.18),(7.72,-0.25),(7.65,-0.33),(7.57,-0.38),
    (7.52,-0.43),(7.46,-0.5),(7.43,-0.55),(8.84,0.73),(8.91,0.77),(8.99,0.85),(9.06,0.92),(8.76,0.82),(8.71,0.77),(8.63,0.75),
    (8.56,0.73),(8.62,0.53),(8.69,0.58),(8.76,0.63),(8.54,0.43),(8.47,0.38),(8.39,0.31),(8.32,0.24),(8.35,0.19),(8.24,0.19),
    (8.17,0.09),(8.09,0.01),(8.02,-0.06),(7.95,-0.13),(7.87,-0.2),(7.82,-0.28),(7.76,-0.3),(7.69,-0.35),(7.65,-0.45),(7.54,-0.52),
    (7.54,-0.6),(7.82,-0.4),(7.93,-0.1),(8.04,-0.16),(8.08,-0.23),(7.95,-0.28),(7.87,-0.36),(7.74,-0.13),(7.63,-0.23),(7.55,-0.23),
    (7.37,-0.35),(7.43,-0.45),(7.39,-0.08),(7.26,-0.02),(7.27,-0.13),(7.47,0.14),(7.5,0.28),(7.59,0.31),(7.57,0.38),(7.67,0.21),
    (7.7,0.55),(7.78,0.5),(7.83,0.41),(7.89,0.28),(7.93,0.46),(7.98,0.58),(8.02,0.41),(7.98,0.24),(8.06,0.19),(8.13,0.28),
    (8.17,0.43),(8.24,0.5),(8.28,0.63),(8.17,0.77),(8.19,0.6),(8.26,0.92),(8.35,0.92),(8.47,1.02),(8.47,0.85),(8.39,0.73),
    (8.32,0.62),(8.56,0.92),(8.6,1.02),(8.65,0.95),(8.58,1.34),(8.65,1.19),(8.75,1.31),(8.78,1.22),(8.88,1.45),(8.91,1.04),
    (8.84,1.12),(8.78,1.12),(6.79,-0.46),(7.13,-0.77),(7.17,-0.66),(7.3,-0.85),(7.62,-0.25),(7.47,-0.35),
    (9.02,1.53),(9.1,1.66),(9.06,1.89),(9.14,1.71),(9.27,2.08),(9.28,1.66),(9.4,1.56),(9.47,1.46),(9.62,2.03),(9.73,1.9),
    (9.8,1.95),(9.88,2.1),(9.93,2.0),(10.01,2.12),(9.97,2.25),(10.03,2.34),(10.06,2.29),(10.1,2.2),(10.16,2.29),(10.19,2.25),
    (9.51,1.71),(9.58,1.8),(9.66,1.85),(9.71,1.78),(9.54,1.66),(9.43,1.61),(9.36,1.51),(9.28,1.41),(9.21,1.36),(9.14,1.31),
    (9.06,1.26),(8.99,1.22),(8.91,1.17),(8.86,1.19),
    (9.6,1.45),(9.7,1.5),(9.75,1.4),(9.85,1.55),(9.9,1.7),(9.95,1.6),(10.0,1.8),(10.05,1.7),(9.5,1.35),(9.45,1.25),
    (9.65,1.3),(9.55,1.2),
    (9.34,1.28),(9.42,1.34),(9.5,1.42),(9.58,1.48),(9.66,1.54),(9.74,1.6),(9.82,1.66),(9.9,1.76),(9.98,1.84),(10.06,1.92),
    (9.3,1.1),(9.38,1.16),(9.46,1.22),(9.54,1.3),(9.62,1.36),(9.7,1.44),(9.78,1.5),(9.86,1.58),(9.94,1.66),(10.02,1.72),
    (9.2,1.12),(9.1,1.04),(9.0,0.96),(8.9,0.9),(8.8,0.78),(8.7,0.72),(8.6,0.6),(8.5,0.5),(8.4,0.42),(8.3,0.32),
    (8.2,0.2),(8.1,0.08),(8.0,0.0),(9.68,1.7),(9.78,1.78),(9.86,1.84),
]

panel_names = ['BC03', 'CB19', 'BPASS single', 'BPASS binary']
panel_pts = [bc03_pts, cb19_pts, bpass_single_pts, bpass_binary_pts]
# typical uncertainty (x, y) for the grey cross in each panel
err_mass = [0.165, 0.20, 0.10, 0.125]
err_sfr = [0.35, 0.31, 0.17, 0.33]
ssfr_main = -8.0         # log sSFR for 10 Gyr^-1
ssfr_side = [-7.0, -9.0]  # 100 and 1 Gyr^-1

fig, axes = plt.subplots(2, 2, sharex=True, sharey=True, figsize=(12, 12.15), dpi=100)
fig.subplots_adjust(left=0.105, right=0.999, bottom=0.105, top=0.9975, wspace=0, hspace=0)

mline = np.array([6.5, 12.5])
for ax, name, pts, ex, ey in zip(axes.flat, panel_names, panel_pts, err_mass, err_sfr):
    m, sfr = np.array(pts).T
    ax.scatter(m, sfr, s=28, color='#7b1fa2', alpha=0.42, edgecolors='none', zorder=2)
    l1, = ax.plot(mline, mline + ssfr_main, color='black', lw=1.8, zorder=3,
                  label='sSFR = 10 Gyr$^{-1}$')
    for s in ssfr_side:
        l2, = ax.plot(mline, mline + s, color='gray', lw=1.6, ls='--', zorder=3,
                      label='sSFR = 100; 1 Gyr$^{-1}$')
    eb = ax.errorbar(7, 2, xerr=ex, yerr=ey, fmt='.', ms=4, color='gray', capsize=4,
                     elinewidth=1.5, capthick=1.5, label='Typical uncertainty')
    ax.text(0.15, 0.865, name, transform=ax.transAxes, fontsize=20, va='center')
    ax.set_xlim(6.5, 12.5)
    ax.set_ylim(-2.5, 5.5)
    ax.set_xticks([7, 8, 9, 10, 11, 12])
    ax.set_yticks([-2, -1, 0, 1, 2, 3, 4, 5])
    ax.tick_params(labelsize=20)
    if ax is axes[0, 0]:
        handles = [l1, l2, eb]

fig.legend(handles=handles, loc='upper center', bbox_to_anchor=(0.541, 0.9975),
           ncol=3, fontsize=17.6, borderaxespad=0)
fig.supxlabel('Stellar Mass [log(M$_\\star$/M$_{\\odot}$)]', fontsize=24, y=0.002)
fig.supylabel('SFR [M$_{\\odot}$/$yr$]', fontsize=24, x=0.003)

plt.savefig('out.png', dpi=100)
